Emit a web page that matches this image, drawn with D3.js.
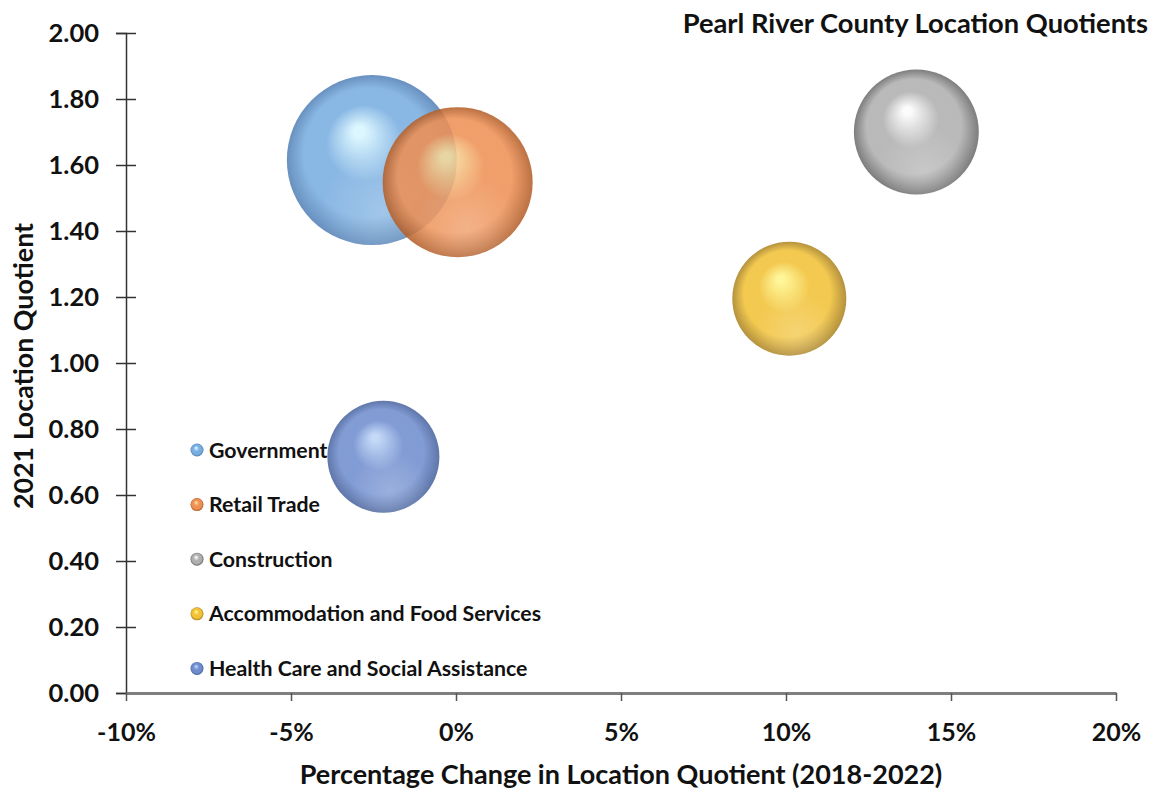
<!DOCTYPE html>
<html>
<head>
<meta charset="utf-8">
<script src="https://cdn.jsdelivr.net/npm/d3@7"></script>
<style>
  body { margin: 0; background: #fff; }
  text { font-family: Lato, "Open Sans", sans-serif; font-weight: bold; fill: #111; }
</style>
</head>
<body>
<svg id="chart"></svg>
<script>
// data
const industries = ["Government", "Retail Trade", "Construction",
    "Accommodation and Food Services", "Health Care and Social Assistance"];
const pctChange = [-0.0255, 0.0005, 0.1395, 0.101, -0.022];
const lq2021 = [1.615, 1.548, 1.70, 1.195, 0.716];
const employment = [2890, 2250, 1560, 1300, 1255];

const xTicks = [-0.10, -0.05, 0, 0.05, 0.10, 0.15, 0.20];
const yTicks = [0, 0.2, 0.4, 0.6, 0.8, 1.0, 1.2, 1.4, 1.6, 1.8, 2.0];

// sphere colours: [highlight, main, edge]
const palette = [
    ["#d8f6ff", "#78ade0", "#5280b5"],
    ["#f7dc9c", "#ee9054", "#b25d28"],
    ["#fbfbfb", "#afafaf", "#6a6a6a"],
    ["#fff58a", "#f1c136", "#a98121"],
    ["#bcd4f6", "#6f8dce", "#47629c"]
];

const margin = {top: 33, right: 34, bottom: 96, left: 126},
    svgWidth = 1150,
    svgHeight = 789,
    width = svgWidth - margin.left - margin.right,
    height = svgHeight - margin.top - margin.bottom;

const chart = d3.select("#chart")
    .attr("width", svgWidth)
    .attr("height", svgHeight);

const g = chart.append("g")
    .attr("transform", `translate(${margin.left},${margin.top})`);

const xScale = d3.scaleLinear().domain([-0.10, 0.20]).range([0, width]);
const yScale = d3.scaleLinear().domain([0, 2]).range([height, 0]);
const rScale = d3.scaleSqrt().domain([0, d3.max(employment)]).range([0, 85]);

const rows = industries.map((name, i) => ({
    name: name, x: pctChange[i], y: lq2021[i], size: employment[i], colors: palette[i], i: i
}));

// gradients for the 3D bubble look
const defs = chart.append("defs");
rows.forEach(d => {
    const grad = defs.append("radialGradient")
        .attr("id", "sphere" + d.i)
        .attr("cx", "50%").attr("cy", "50%").attr("r", "50%")
        .attr("fx", "42%").attr("fy", "32%");
    grad.append("stop").attr("offset", "0%").attr("stop-color", d.colors[0]);
    grad.append("stop").attr("offset", "6%").attr("stop-color", d.colors[0]);
    grad.append("stop").attr("offset", "45%").attr("stop-color", d.colors[1]);
    grad.append("stop").attr("offset", "76%").attr("stop-color", d.colors[1]);
    grad.append("stop").attr("offset", "100%").attr("stop-color", d.colors[2]);
});
const glow = defs.append("radialGradient")
    .attr("id", "bottomGlow")
    .attr("cx", "56%").attr("cy", "80%").attr("r", "36%");
glow.append("stop").attr("offset", "0%").attr("stop-color", "#fff").attr("stop-opacity", 0.2);
glow.append("stop").attr("offset", "100%").attr("stop-color", "#fff").attr("stop-opacity", 0);

// y axis with cross ticks
const yAxis = d3.axisLeft(yScale)
    .tickValues(yTicks)
    .tickSize(10)
    .tickPadding(17)
    .tickFormat(d3.format(".2f"));

const yG = g.append("g").call(yAxis);
yG.select(".domain").attr("stroke", "#333").attr("stroke-width", 1.5);
yG.selectAll(".tick line").attr("x1", 10).attr("stroke", "#333").attr("stroke-width", 1.5);
yG.selectAll(".tick text").style("font-size", "25.5px").attr("dy", "0.35em");

// x axis
const xAxis = d3.axisBottom(xScale)
    .tickValues(xTicks)
    .tickSize(8)
    .tickSizeOuter(0)
    .tickPadding(22)
    .tickFormat(d => Math.round(d * 100) + "%");

const xG = g.append("g")
    .attr("transform", `translate(0,${height})`)
    .call(xAxis);
xG.select(".domain").attr("stroke", "#7f7f7f").attr("stroke-width", 3);
xG.selectAll(".tick line").attr("stroke", "#555").attr("stroke-width", 1.5);
xG.selectAll(".tick text").style("font-size", "25px");

// bubbles
const bubbles = g.append("g").selectAll("g.bubble")
    .data(rows)
    .enter()
    .append("g")
    .attr("class", "bubble")
    .attr("transform", d => `translate(${xScale(d.x)},${yScale(d.y)})`);

bubbles.append("circle")
    .attr("r", d => rScale(d.size))
    .attr("fill", d => `url(#sphere${d.i})`)
    .attr("fill-opacity", 0.87);

bubbles.append("circle")
    .attr("r", d => rScale(d.size))
    .attr("fill", "url(#bottomGlow)");

// legend
const legend = g.append("g")
    .attr("transform", `translate(${197 - margin.left},${450 - margin.top})`);

const item = legend.selectAll("g")
    .data(rows)
    .enter()
    .append("g")
    .attr("transform", (d, i) => `translate(0,${i * 54.6})`);

item.append("circle")
    .attr("r", 6.5)
    .attr("fill", d => `url(#sphere${d.i})`);

item.append("text")
    .attr("x", 12)
    .attr("dy", "0.36em")
    .style("font-size", "21.3px")
    .text(d => d.name);

// title
chart.append("text")
    .attr("x", 1148)
    .attr("y", 33)
    .attr("text-anchor", "end")
    .style("font-size", "27.3px")
    .text("Pearl River County Location Quotients");

// axis titles
chart.append("text")
    .attr("x", 621)
    .attr("y", 784)
    .attr("text-anchor", "middle")
    .style("font-size", "27px")
    .text("Percentage Change in Location Quotient (2018-2022)");

chart.append("text")
    .attr("transform", "translate(33,366) rotate(-90)")
    .attr("text-anchor", "middle")
    .style("font-size", "26.8px")
    .text("2021 Location Quotient");
</script>
</body>
</html>
